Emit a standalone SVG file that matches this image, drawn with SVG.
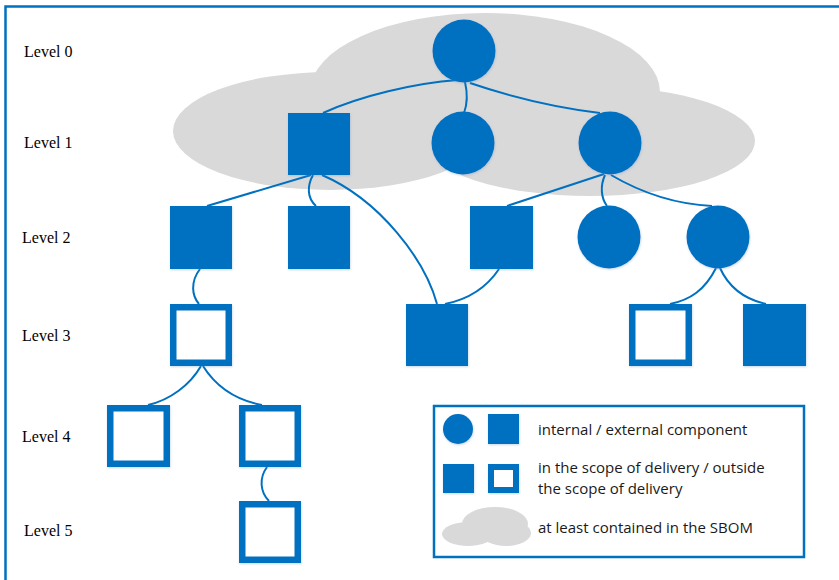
<svg xmlns="http://www.w3.org/2000/svg" width="839" height="580" viewBox="0 0 839 580">
<defs>
<style>
.lvl{font-family:"Liberation Serif","DejaVu Serif",serif;font-size:16px;fill:#000}
.leg{font-family:"Open Sans","Noto Sans",sans-serif;font-size:15px;fill:#1a1a1a}
.fill{fill:#0070c0}
.out{fill:#fff;stroke:#0070c0;stroke-width:6.5}
.cloud{fill:#d9d9d9}
.con{fill:none;stroke:#0070c0;stroke-width:2}
</style>
<filter id="sh" x="-20%" y="-20%" width="140%" height="140%">
<feDropShadow dx="0.5" dy="1" stdDeviation="1" flood-color="#5b8fc7" flood-opacity="0.35"/>
</filter>
</defs>
<rect x="0" y="0" width="839" height="580" fill="#fff"/>
<rect x="5.5" y="6.5" width="850" height="600" fill="none" stroke="#0070c0" stroke-width="2.5"/>

<g id="cloud">
<ellipse class="cloud" cx="330" cy="131" rx="157" ry="59"/>
<ellipse class="cloud" cx="485" cy="92" rx="175" ry="79"/>
<ellipse class="cloud" cx="590" cy="141" rx="165" ry="55"/>
</g>

<g id="labels">
<text class="lvl" x="24" y="57">Level 0</text>
<text class="lvl" x="24" y="148">Level 1</text>
<text class="lvl" x="22" y="243">Level 2</text>
<text class="lvl" x="22" y="341">Level 3</text>
<text class="lvl" x="22" y="442">Level 4</text>
<text class="lvl" x="24" y="536">Level 5</text>
</g>

<g id="connectors">
<path class="con" d="M 323 113 C 360 96, 415 83, 458 80"/>
<path class="con" d="M 465 82 C 468 95, 467 105, 464 113"/>
<path class="con" d="M 470 83 C 520 100, 560 108, 600 113"/>
<path class="con" d="M 311 175 L 207 206"/>
<path class="con" d="M 313 175 C 307 186, 307 198, 316 206"/>
<path class="con" d="M 322 175 C 380 200, 425 260, 437 304"/>
<path class="con" d="M 499 269 C 485 290, 465 300, 445 304"/>
<path class="con" d="M 604 174 L 507 206"/>
<path class="con" d="M 605 175 C 600 186, 601 198, 607 206"/>
<path class="con" d="M 611 175 C 640 192, 672 204, 712 206"/>
<path class="con" d="M 716 268 C 705 290, 690 300, 670 304"/>
<path class="con" d="M 720 268 C 730 290, 748 300, 766 304"/>
<path class="con" d="M 200 269 C 190 282, 192 296, 199 304"/>
<path class="con" d="M 201 366 C 190 385, 170 400, 148 405"/>
<path class="con" d="M 203 366 C 215 385, 235 400, 262 405"/>
<path class="con" d="M 267 467 C 259 478, 260 492, 269 501"/>
</g>

<g id="n0" filter="url(#sh)"><circle class="fill" cx="464" cy="51" r="31.5"/></g>
<g id="n1a" filter="url(#sh)"><rect class="fill" x="288" y="113" width="62" height="62"/></g>
<g id="n1b" filter="url(#sh)"><circle class="fill" cx="463" cy="143" r="31.5"/></g>
<g id="n1c" filter="url(#sh)"><circle class="fill" cx="610" cy="143" r="31.5"/></g>
<g id="n2a" filter="url(#sh)"><rect class="fill" x="170" y="206" width="62" height="63"/></g>
<g id="n2b" filter="url(#sh)"><rect class="fill" x="288" y="206" width="62" height="63"/></g>
<g id="n2c" filter="url(#sh)"><rect class="fill" x="470" y="206" width="63" height="63"/></g>
<g id="n2d" filter="url(#sh)"><circle class="fill" cx="609" cy="237" r="31.5"/></g>
<g id="n2e" filter="url(#sh)"><circle class="fill" cx="718" cy="237" r="31.5"/></g>
<g id="n3a" filter="url(#sh)"><rect class="out" x="173.25" y="307.25" width="55.5" height="55.5"/></g>
<g id="n3b" filter="url(#sh)"><rect class="fill" x="406" y="304" width="62" height="62"/></g>
<g id="n3c" filter="url(#sh)"><rect class="out" x="632.25" y="307.25" width="56.5" height="55.5"/></g>
<g id="n3d" filter="url(#sh)"><rect class="fill" x="743" y="304" width="63" height="62"/></g>
<g id="n4a" filter="url(#sh)"><rect class="out" x="110.25" y="408.25" width="56.5" height="55.5"/></g>
<g id="n4b" filter="url(#sh)"><rect class="out" x="242.25" y="408.25" width="55.5" height="55.5"/></g>
<g id="n5" filter="url(#sh)"><rect class="out" x="242.25" y="504.25" width="55.5" height="55.5"/></g>

<g id="legend">
<rect x="434" y="406" width="370" height="151" fill="#fff" stroke="#0070c0" stroke-width="2.5"/>
<circle class="fill" cx="458" cy="429" r="15" filter="url(#sh)"/>
<rect class="fill" x="488" y="414" width="31" height="30" filter="url(#sh)"/>
<rect class="fill" x="443" y="464" width="31" height="29" filter="url(#sh)"/>
<rect x="491" y="467" width="25" height="23" fill="#fff" stroke="#0070c0" stroke-width="6" filter="url(#sh)"/>
<ellipse class="cloud" cx="495" cy="524" rx="33" ry="17"/>
<ellipse class="cloud" cx="468" cy="534" rx="26" ry="12"/>
<ellipse class="cloud" cx="506" cy="533" rx="25" ry="13"/>
<text class="leg" x="538" y="435">internal / external component</text>
<text class="leg" x="538" y="473">in the scope of delivery / outside</text>
<text class="leg" x="538" y="494">the scope of delivery</text>
<text class="leg" x="538" y="533">at least contained in the SBOM</text>
</g>
</svg>
